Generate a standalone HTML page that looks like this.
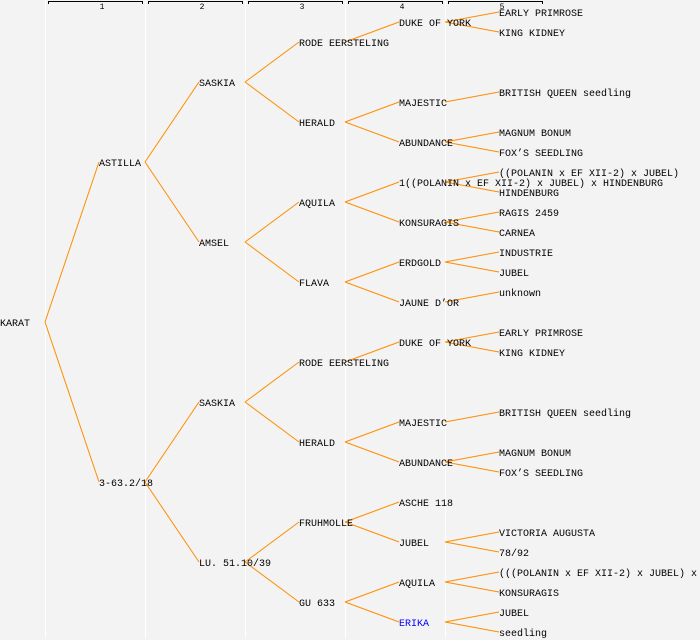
<!DOCTYPE html>
<html><head><meta charset="utf-8"><style>
html,body{margin:0;padding:0;background:#f3f3f3;}
svg{display:block;}
text{font-family:"Liberation Mono","DejaVu Sans Mono",monospace;font-size:10px;fill:#000;}
.h{font-size:8px;}
</style></head><body>
<svg width="700" height="640" viewBox="0 0 700 640" xmlns="http://www.w3.org/2000/svg">
<rect width="700" height="640" fill="#f3f3f3"/>
<g stroke="#fff" stroke-width="1">
<line x1="45.5" y1="0" x2="45.5" y2="638"/>
<line x1="145.5" y1="0" x2="145.5" y2="638"/>
<line x1="245.5" y1="0" x2="245.5" y2="638"/>
<line x1="345.5" y1="0" x2="345.5" y2="638"/>
<line x1="445.5" y1="0" x2="445.5" y2="638"/>
</g>
<g stroke="#000" stroke-width="1" fill="none">
<path d="M48.5 4V1.5H142.5V4"/>
<path d="M148.5 4V1.5H242.5V4"/>
<path d="M248.5 4V1.5H342.5V4"/>
<path d="M348.5 4V1.5H442.5V4"/>
<path d="M448.5 4V1.5H542.5V4"/>
</g>
<g class="h" text-anchor="middle">
<text class="h" x="102" y="9">1</text>
<text class="h" x="202" y="9">2</text>
<text class="h" x="302" y="9">3</text>
<text class="h" x="402" y="9">4</text>
<text class="h" x="502" y="9">5</text>
</g>
<g stroke="#ff8c00" stroke-width="1" fill="none">
<path d="M45 322L99 162M45 322L99 482"/>
<path d="M145 162L199 82M145 162L199 242M145 482L199 402M145 482L199 562"/>
<path d="M245 82L299 42M245 82L299 122M245 242L299 202M245 242L299 282M245 402L299 362M245 402L299 442M245 562L299 522M245 562L299 602"/>
<path d="M345 42L399 22M345 122L399 102M345 122L399 142M345 202L399 182M345 202L399 222M345 282L399 262M345 282L399 302M345 362L399 342M345 442L399 422M345 442L399 462M345 522L399 502M345 522L399 542M345 602L399 582M345 602L399 622"/>
<path d="M445 22L499 12M445 22L499 32M445 102L499 92M445 142L499 132M445 142L499 152M445 182L499 172M445 182L499 192M445 222L499 212M445 222L499 232M445 262L499 252M445 262L499 272M445 302L499 292M445 342L499 332M445 342L499 352M445 422L499 412M445 462L499 452M445 462L499 472M445 542L499 532M445 542L499 552M445 582L499 572M445 582L499 592M445 622L499 612M445 622L499 632"/>
</g>
<g>
<text x="0" y="326">KARAT</text>
<text x="99" y="166">ASTILLA</text>
<text x="99" y="486">3-63.2/18</text>
<text x="199" y="86">SASKIA</text>
<text x="199" y="246">AMSEL</text>
<text x="199" y="406">SASKIA</text>
<text x="199" y="566">LU. 51.10/39</text>
<text x="299" y="46">RODE EERSTELING</text>
<text x="299" y="126">HERALD</text>
<text x="299" y="206">AQUILA</text>
<text x="299" y="286">FLAVA</text>
<text x="299" y="366">RODE EERSTELING</text>
<text x="299" y="446">HERALD</text>
<text x="299" y="526">FRUHMOLLE</text>
<text x="299" y="606">GU 633</text>
<text x="399" y="26">DUKE OF YORK</text>
<text x="399" y="106">MAJESTIC</text>
<text x="399" y="146">ABUNDANCE</text>
<text x="399" y="186">1((POLANIN x EF XII-2) x JUBEL) x HINDENBURG</text>
<text x="399" y="226">KONSURAGIS</text>
<text x="399" y="266">ERDGOLD</text>
<text x="399" y="306">JAUNE D’OR</text>
<text x="399" y="346">DUKE OF YORK</text>
<text x="399" y="426">MAJESTIC</text>
<text x="399" y="466">ABUNDANCE</text>
<text x="399" y="506">ASCHE 118</text>
<text x="399" y="546">JUBEL</text>
<text x="399" y="586">AQUILA</text>
<text x="399" y="626" style="fill:#0000ff">ERIKA</text>
<text x="499" y="16">EARLY PRIMROSE</text>
<text x="499" y="36">KING KIDNEY</text>
<text x="499" y="96">BRITISH QUEEN seedling</text>
<text x="499" y="136">MAGNUM BONUM</text>
<text x="499" y="156">FOX’S SEEDLING</text>
<text x="499" y="176">((POLANIN x EF XII-2) x JUBEL)</text>
<text x="499" y="196">HINDENBURG</text>
<text x="499" y="216">RAGIS 2459</text>
<text x="499" y="236">CARNEA</text>
<text x="499" y="256">INDUSTRIE</text>
<text x="499" y="276">JUBEL</text>
<text x="499" y="296">unknown</text>
<text x="499" y="336">EARLY PRIMROSE</text>
<text x="499" y="356">KING KIDNEY</text>
<text x="499" y="416">BRITISH QUEEN seedling</text>
<text x="499" y="456">MAGNUM BONUM</text>
<text x="499" y="476">FOX’S SEEDLING</text>
<text x="499" y="536">VICTORIA AUGUSTA</text>
<text x="499" y="556">78/92</text>
<text x="499" y="576">(((POLANIN x EF XII-2) x JUBEL) x</text>
<text x="499" y="596">KONSURAGIS</text>
<text x="499" y="616">JUBEL</text>
<text x="499" y="636">seedling</text>
</g>
</svg>
</body></html>
